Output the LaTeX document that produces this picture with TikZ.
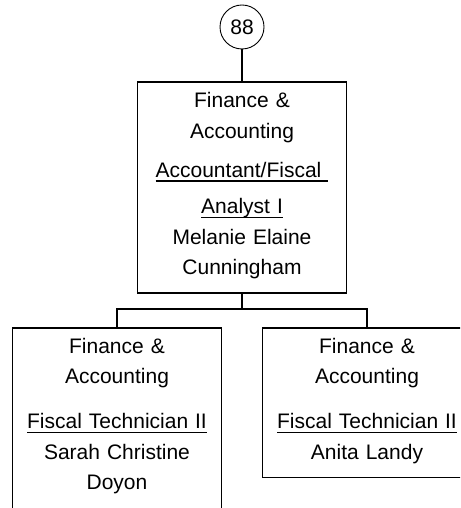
\documentclass[tikz,border=0pt]{standalone}
\usepackage{fontspec}
\setmainfont{Liberation Sans}

\newcommand{\ulline}[1]{\leavevmode\setbox0=\hbox{#1}\rlap{\rule[-4.8pt]{\wd0}{1.6pt}}\box0}
\newcommand{\taildepth}[1]{\rule[-#1]{0pt}{#1}}

\begin{document}
\begin{tikzpicture}[x=1pt, y=1pt,
  posbox/.style={draw, line width=1.6pt, anchor=north, text width=185pt,
    inner xsep=12pt, inner ysep=10pt, align=center,
    font=\fontsize{21}{30.5}\selectfont},
  link/.style={line width=1.6pt}]
  \useasboundingbox (0,0) rectangle (460,508);
  \clip (0,0) rectangle (460,508);
  % position number
  \node[circle, draw, line width=0.9pt, minimum size=44pt, inner sep=0pt,
    font=\fontsize{21}{24}\selectfont] (pos88) at (242,481) {88};
  % supervisor
  \node[posbox] (analyst) at (242,426.5) {Finance \&\\ Accounting\\[8.5pt]
    \ulline{Accountant/Fiscal\ }\\[6pt] \ulline{Analyst I}\\ Melanie Elaine\\
    Cunningham\taildepth{8.5pt}};
  % staff
  \node[posbox] (techleft) at (117,181) {Finance \&\\ Accounting\\[14.5pt]
    \ulline{Fiscal Technician II}\\ Sarah Christine\\ Doyon\taildepth{16pt}};
  \node[posbox] (techright) at (367,181) {Finance \&\\ Accounting\\[14.5pt]
    \ulline{Fiscal Technician II}\\ Anita Landy\taildepth{8.5pt}};
  % reporting lines
  \coordinate (bar) at (242,199);
  \draw[link] (pos88) -- (analyst);
  \draw[link] (analyst.south) -- (bar);
  \draw[link] (techleft.north) |- (bar) -| (techright.north);
\end{tikzpicture}
\end{document}
